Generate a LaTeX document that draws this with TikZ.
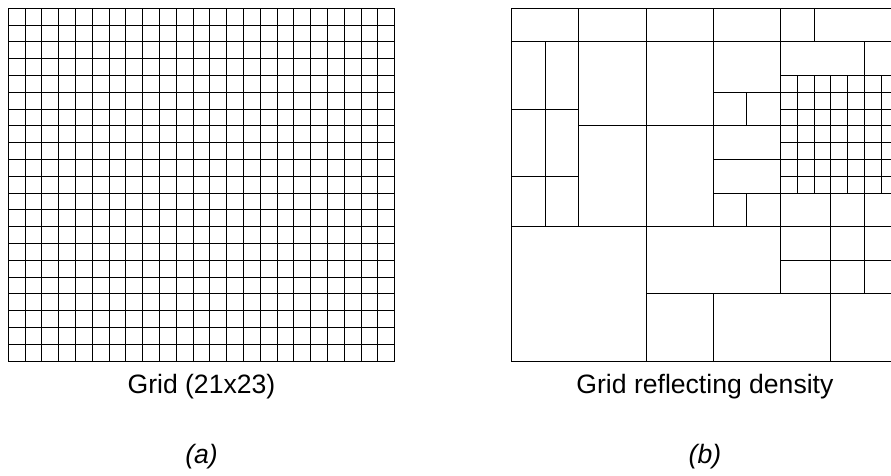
\documentclass[tikz,border=0pt]{standalone}
\usepackage{fontspec}
\setmainfont{Liberation Sans}
\begin{document}
\begin{tikzpicture}[x=0.4cm,y=0.4cm,
  gridline/.style={line width=0.6pt,black},
  caption/.style={font=\fontsize{18}{21}\selectfont,anchor=base,inner sep=0pt},
  sublabel/.style={font=\fontsize{18}{21}\selectfont\itshape,anchor=base,inner sep=0pt}]
\clip (0,0) rectangle (53.036,-28.333);
% (a) uniform grid 21 rows x 23 columns
\begin{scope}[shift={(0.494,-0.494)},yscale=-1]
  \foreach \i in {0,...,23} {\draw[gridline] (\i,0) -- (\i,21);}
  \foreach \j in {0,...,21} {\draw[gridline] (0,\j) -- (23,\j);}
\end{scope}
% (b) adaptive grid
\begin{scope}[shift={(30.46,-0.494)},yscale=-1]
  \draw[gridline] (0,0) rectangle (23,21);
  % horizontals
  \draw[gridline] (0,2) -- (23,2);
  \draw[gridline] (16,4) -- (23,4);
  \draw[gridline] (12,5) -- (23,5);
  \draw[gridline] (0,6) -- (4,6) (16,6) -- (23,6);
  \draw[gridline] (4,7) -- (23,7);
  \draw[gridline] (16,8) -- (23,8);
  \draw[gridline] (12,9) -- (23,9);
  \draw[gridline] (0,10) -- (4,10) (16,10) -- (23,10);
  \draw[gridline] (12,11) -- (23,11);
  \draw[gridline] (0,13) -- (23,13);
  \draw[gridline] (16,15) -- (23,15);
  \draw[gridline] (8,17) -- (23,17);
  % verticals
  \draw[gridline] (2,2) -- (2,13);
  \draw[gridline] (4,0) -- (4,13);
  \draw[gridline] (8,0) -- (8,21);
  \draw[gridline] (12,0) -- (12,13) (12,17) -- (12,21);
  \draw[gridline] (14,5) -- (14,7) (14,11) -- (14,13);
  \draw[gridline] (16,0) -- (16,17);
  \draw[gridline] (17,4) -- (17,11);
  \draw[gridline] (18,0) -- (18,2) (18,4) -- (18,11);
  \draw[gridline] (19,4) -- (19,21);
  \draw[gridline] (20,4) -- (20,11);
  \draw[gridline] (21,2) -- (21,17);
  \draw[gridline] (22,4) -- (22,11);
\end{scope}
% captions
\node[caption] (capa) at (11.99,-23.45) {Grid (21x23)};
\node[caption] (capb) at (41.96,-23.45) {Grid reflecting density};
\node[sublabel] (suba) at (12.0,-27.6) {(a)};
\node[sublabel] (subb) at (41.96,-27.6) {(b)};
\end{tikzpicture}
\end{document}
